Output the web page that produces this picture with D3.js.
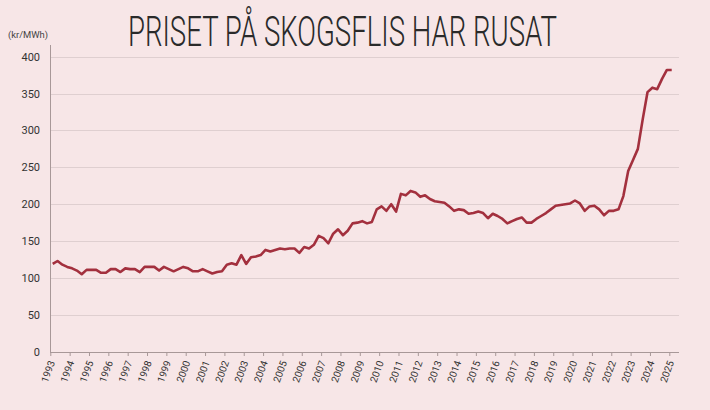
<!DOCTYPE html>
<html><head><meta charset="utf-8">
<script src="https://cdn.jsdelivr.net/npm/d3@7"></script>
<style>
html,body{margin:0;padding:0;background:#f7e6e7;}
svg{display:block}
</style></head><body>
<script>
// ---- data ----
const years = [1993,1994,1995,1996,1997,1998,1999,2000,2001,2002,2003,2004,2005,2006,2007,2008,2009,2010,2011,2012,2013,2014,2015,2016,2017,2018,2019,2020,2021,2022,2023,2024,2025];
// price per quarter (kr/MWh), Q1..Q4 for each year
const quarterlyPrice = [
  [119,123,118,115], // 1993
  [113,110,105,111], // 1994
  [111,111,107,107], // 1995
  [112,112,108,113], // 1996
  [112,112,108,115], // 1997
  [115,115,110,115], // 1998
  [112,109,112,115], // 1999
  [113,109,109,112], // 2000
  [109,106,108,109], // 2001
  [118,120,118,131], // 2002
  [119,128,129,131], // 2003
  [138,136,138,140], // 2004
  [139,140,140,134], // 2005
  [142,140,145,157], // 2006
  [154,147,160,166], // 2007
  [158,164,174,175], // 2008
  [177,174,176,193], // 2009
  [197,191,200,190], // 2010
  [214,212,218,216], // 2011
  [210,212,207,204], // 2012
  [203,202,197,191], // 2013
  [193,192,187,188], // 2014
  [190,188,181,187], // 2015
  [184,180,174,177], // 2016
  [180,182,175,175], // 2017
  [180,184,188,193], // 2018
  [198,199,200,201], // 2019
  [205,201,191,197], // 2020
  [198,193,185,191], // 2021
  [191,193,211,245], // 2022
  [260,275,315,352], // 2023
  [358,356,370,382], // 2024
  [382]              // 2025
];
const yTicks = [0,50,100,150,200,250,300,350,400];
const title = "PRISET PÅ SKOGSFLIS HAR RUSAT";
const unitLabel = "(kr/MWh)";

// ---- drawing ----
const W = 710, H = 410;
const BG = "#f7e6e7", LINE = "#a3303e", GRID = "#dfcfd0", AXIS = "#a89898", TXT = "#333";

const svg = d3.select("body").append("svg").attr("width", W).attr("height", H);
svg.append("rect").attr("width", W).attr("height", H).attr("fill", BG);

const x = d3.scaleLinear().domain([1993, 2025]).range([50.3, 669.3]);
const y = d3.scaleLinear().domain([0, 400]).range([351.7, 56.7]);

const points = [];
years.forEach((yr, i) => (quarterlyPrice[i] || []).forEach((v, q) => points.push({t: yr + (q + 0.5) / 4, v})));

// gridlines
svg.append("g").selectAll("line").data(yTicks.filter(d => d > 0)).join("line")
  .attr("x1", 50).attr("x2", 679)
  .attr("y1", d => Math.round(y(d)) + 0.5).attr("y2", d => Math.round(y(d)) + 0.5)
  .attr("stroke", GRID).attr("stroke-width", 1);

// y axis
const gy = svg.append("g").attr("transform", "translate(50,0)")
  .call(d3.axisLeft(y).tickValues(yTicks).tickSize(0).tickPadding(10));
gy.select(".domain").remove();
gy.selectAll("text").attr("font-family", "Roboto, 'DejaVu Sans', sans-serif")
  .attr("font-size", 11).attr("fill", TXT);
svg.append("line").attr("x1", 50.5).attr("x2", 50.5).attr("y1", 45).attr("y2", 352)
  .attr("stroke", AXIS).attr("stroke-width", 1);

// x axis
const gx = svg.append("g").attr("transform", "translate(0,352)")
  .call(d3.axisBottom(x).tickValues(years).tickFormat(d3.format("d")).tickSize(4));
gx.select(".domain").remove();
gx.selectAll(".tick line").attr("stroke", AXIS);
gx.selectAll("text")
  .attr("font-family", "Roboto, 'DejaVu Sans', sans-serif")
  .attr("font-size", 10).attr("fill", TXT)
  .attr("text-anchor", "end")
  .attr("x", 0).attr("y", 0).attr("dy", "0.35em")
  .attr("transform", "translate(1,9) rotate(-70)");
svg.append("line").attr("x1", 50).attr("x2", 679).attr("y1", 352.5).attr("y2", 352.5)
  .attr("stroke", AXIS).attr("stroke-width", 1);

// line
svg.append("path").datum(points)
  .attr("fill", "none").attr("stroke", LINE).attr("stroke-width", 2.6)
  .attr("stroke-linejoin", "round")
  .attr("d", d3.line().x(d => x(d.t)).y(d => y(d.v)));

// title
svg.append("text").attr("x", 128).attr("y", 46)
  .attr("font-family", "Roboto, 'Open Sans', sans-serif")
  .attr("font-weight", 300)
  .attr("font-size", 43).attr("fill", "#2a2a2a")
  .attr("textLength", 429).attr("lengthAdjust", "spacingAndGlyphs")
  .text(title);

// unit label
svg.append("text").attr("x", 8).attr("y", 38)
  .attr("font-family", "Roboto, 'DejaVu Sans', sans-serif")
  .attr("font-size", 9).attr("fill", "#444")
  .attr("textLength", 40).attr("lengthAdjust", "spacingAndGlyphs")
  .text(unitLabel);
</script>
</body></html>
